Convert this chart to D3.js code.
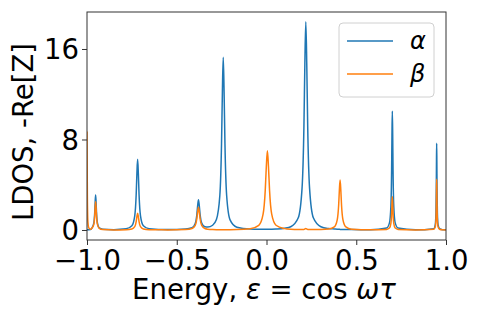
<!DOCTYPE html>
<html>
<head>
<meta charset="utf-8">
<script src="https://cdn.jsdelivr.net/npm/d3@7"></script>
<style>
  html, body { margin: 0; padding: 0; background: #fff; }
  svg { display: block; font-family: "DejaVu Sans", sans-serif; }
</style>
</head>
<body>
<svg id="chart" width="480" height="320"></svg>
<script>
// ---- data ----
const energy = [
  -1.000, -0.998, -0.995, -0.990, -0.980, -0.972, -0.962, -0.957, -0.9545, -0.952, -0.9495, -0.947, -0.942, -0.932, -0.912,
  -0.850, -0.782, -0.750, -0.734, -0.726, -0.722, -0.718, -0.714, -0.710, -0.702, -0.686, -0.654,
  -0.550, -0.451, -0.415, -0.397, -0.388, -0.3835, -0.379, -0.3745, -0.370, -0.361, -0.343, -0.327, -0.300,
  -0.279, -0.260, -0.2505, -0.24575, -0.241, -0.23625, -0.2315, -0.222, -0.203, -0.165,
  -0.091, -0.043, -0.019, -0.007, -0.001, 0.005, 0.011, 0.017, 0.029, 0.053, 0.101,
  0.135, 0.177, 0.198, 0.2085, 0.21375, 0.219, 0.22425, 0.2295, 0.240, 0.261, 0.303,
  0.346, 0.378, 0.394, 0.402, 0.406, 0.410, 0.414, 0.418, 0.426, 0.442, 0.474,
  0.580, 0.669, 0.685, 0.693, 0.697, 0.699, 0.701, 0.703, 0.705, 0.709, 0.717, 0.733,
  0.830, 0.932, 0.940, 0.944, 0.946, 0.947, 0.948, 0.949, 0.950, 0.952, 0.956, 0.964, 0.980, 1.000
];
const alphaLDOS = [
  0.03, 0.03, 0.03, 0.03, 0.04, 0.18, 0.62, 1.55, 2.48, 3.10, 2.48, 1.55, 0.62, 0.18, 0.06,
  0.03, 0.10, 0.37, 1.25, 3.13, 5.00, 6.25, 5.00, 3.13, 1.25, 0.37, 0.11,
  0.035, 0.08, 0.20, 0.58, 1.36, 2.15, 2.67, 2.16, 1.38, 0.62, 0.28, 0.26, 0.42,
  0.92, 3.05, 7.64, 12.2, 15.27, 12.2, 7.64, 3.05, 0.90, 0.25,
  0.08, 0.065, 0.065, 0.065, 0.065, 0.067, 0.07, 0.07, 0.075, 0.09, 0.16,
  0.29, 1.08, 3.68, 9.20, 14.72, 18.40, 14.72, 9.20, 3.68, 1.08, 0.29,
  0.13, 0.09, 0.07, 0.065, 0.06, 0.055, 0.053, 0.05, 0.048, 0.043, 0.035,
  0.03, 0.17, 0.63, 2.10, 5.25, 8.40, 10.50, 8.40, 5.25, 2.10, 0.63, 0.17,
  0.012, 0.12, 0.45, 1.53, 3.83, 6.13, 7.66, 6.13, 3.83, 1.53, 0.45, 0.12, 0.03, 0.011
];
const betaLDOS = [
  8.70, 3.13, 0.72, 0.19, 0.06, 0.18, 0.50, 1.25, 2.00, 2.50, 2.00, 1.25, 0.50, 0.15, 0.04,
  0.01, 0.025, 0.09, 0.29, 0.74, 1.18, 1.47, 1.18, 0.74, 0.29, 0.09, 0.025,
  0.01, 0.036, 0.13, 0.41, 1.01, 1.61, 2.01, 1.61, 1.01, 0.41, 0.13, 0.067, 0.036,
  0.03, 0.03, 0.03, 0.03, 0.03, 0.03, 0.03, 0.03, 0.03, 0.035,
  0.11, 0.41, 1.40, 3.50, 5.60, 7.00, 5.60, 3.50, 1.40, 0.42, 0.12,
  0.06, 0.04, 0.045, 0.05, 0.09, 0.14, 0.09, 0.05, 0.045, 0.035, 0.04,
  0.08, 0.27, 0.89, 2.21, 3.54, 4.42, 3.54, 2.21, 0.89, 0.27, 0.075,
  0.015, 0.05, 0.17, 0.59, 1.48, 2.36, 2.95, 2.36, 1.48, 0.59, 0.17, 0.05,
  0.01, 0.07, 0.26, 0.90, 2.24, 3.58, 4.48, 3.58, 2.24, 0.90, 0.26, 0.07, 0.017, 0.007
];
const seriesNames = ["α", "β"];
const seriesColors = ["#1f77b4", "#ff7f0e"];
const xTicks = [-1.0, -0.5, 0.0, 0.5, 1.0];
const yTicks = [0, 8, 16];
const xDomain = [-1.0, 1.0];
const yDomain = [-0.884, 19.27];

// ---- layout ----
const svg = d3.select("#chart");
const L = 87, R = 446, T = 12, B = 240;
const fs = 27.5;

const x = d3.scaleLinear().domain(xDomain).range([L, R]);
const y = d3.scaleLinear().domain(yDomain).range([B, T]);

svg.append("defs").append("clipPath").attr("id", "clip")
  .append("rect").attr("x", L).attr("y", T).attr("width", R - L).attr("height", B - T);

const series = [alphaLDOS, betaLDOS];
const line = d3.line().x(d => x(d[0])).y(d => y(d[1])).curve(d3.curveMonotoneX);

const plot = svg.append("g").attr("clip-path", "url(#clip)");
series.forEach((vals, i) => {
  const pts = energy.map((e, j) => [e, vals[j]]);
  plot.append("path").datum(pts)
    .attr("d", line)
    .attr("fill", "none")
    .attr("stroke", seriesColors[i])
    .attr("stroke-width", 1.5)
    .attr("stroke-linejoin", "round");
});

// axes
const xAxis = d3.axisBottom(x).tickValues(xTicks).tickFormat(d3.format(".1f")).tickSize(5);
const yAxis = d3.axisLeft(y).tickValues(yTicks).tickFormat(d3.format("d")).tickSize(5).tickPadding(4);

const gx = svg.append("g").attr("transform", `translate(0,${B})`).call(xAxis);
const gy = svg.append("g").attr("transform", `translate(${L},0)`).call(yAxis);
[gx, gy].forEach(g => {
  g.select(".domain").remove();
  g.selectAll(".tick line").attr("stroke", "#333").attr("stroke-width", 1);
  g.selectAll(".tick text").attr("fill", "#000").style("font-size", fs + "px")
    .style("font-family", "DejaVu Sans");
});
gx.selectAll(".tick text").attr("y", 30).attr("dy", 0);
gy.selectAll(".tick text").attr("x", -8).attr("dy", "0.36em");

// spines
svg.append("rect").attr("x", L).attr("y", T).attr("width", R - L).attr("height", B - T)
  .attr("fill", "none").attr("stroke", "#333").attr("stroke-width", 1);

// axis labels
const xl = svg.append("text").attr("x", 264).attr("y", 299)
  .attr("text-anchor", "middle").style("font-size", fs + "px").attr("fill", "#000");
xl.append("tspan").text("Energy, ");
xl.append("tspan").style("font-style", "italic").text("ε");
xl.append("tspan").text(" = cos ");
xl.append("tspan").style("font-style", "italic").text("ωτ");

svg.append("text")
  .attr("transform", `translate(33,132) rotate(-90)`)
  .attr("text-anchor", "middle").style("font-size", fs + "px").attr("fill", "#000")
  .text("LDOS, -Re[Z]");

// legend
const lg = svg.append("g");
lg.append("rect").attr("x", 339).attr("y", 23).attr("width", 95).attr("height", 74)
  .attr("rx", 4).attr("fill", "#fff").attr("fill-opacity", 0.8)
  .attr("stroke", "#d0d0d0").attr("stroke-width", 1);
seriesNames.forEach((name, i) => {
  const yy = 41 + i * 33;
  lg.append("line").attr("x1", 347).attr("x2", 393).attr("y1", yy).attr("y2", yy)
    .attr("stroke", seriesColors[i]).attr("stroke-width", 1.5);
  lg.append("text").attr("x", 410).attr("y", yy).attr("dy", "0.35em")
    .style("font-size", "24px").style("font-style", "italic").attr("fill", "#000")
    .text(name);
});
</script>
</body>
</html>
